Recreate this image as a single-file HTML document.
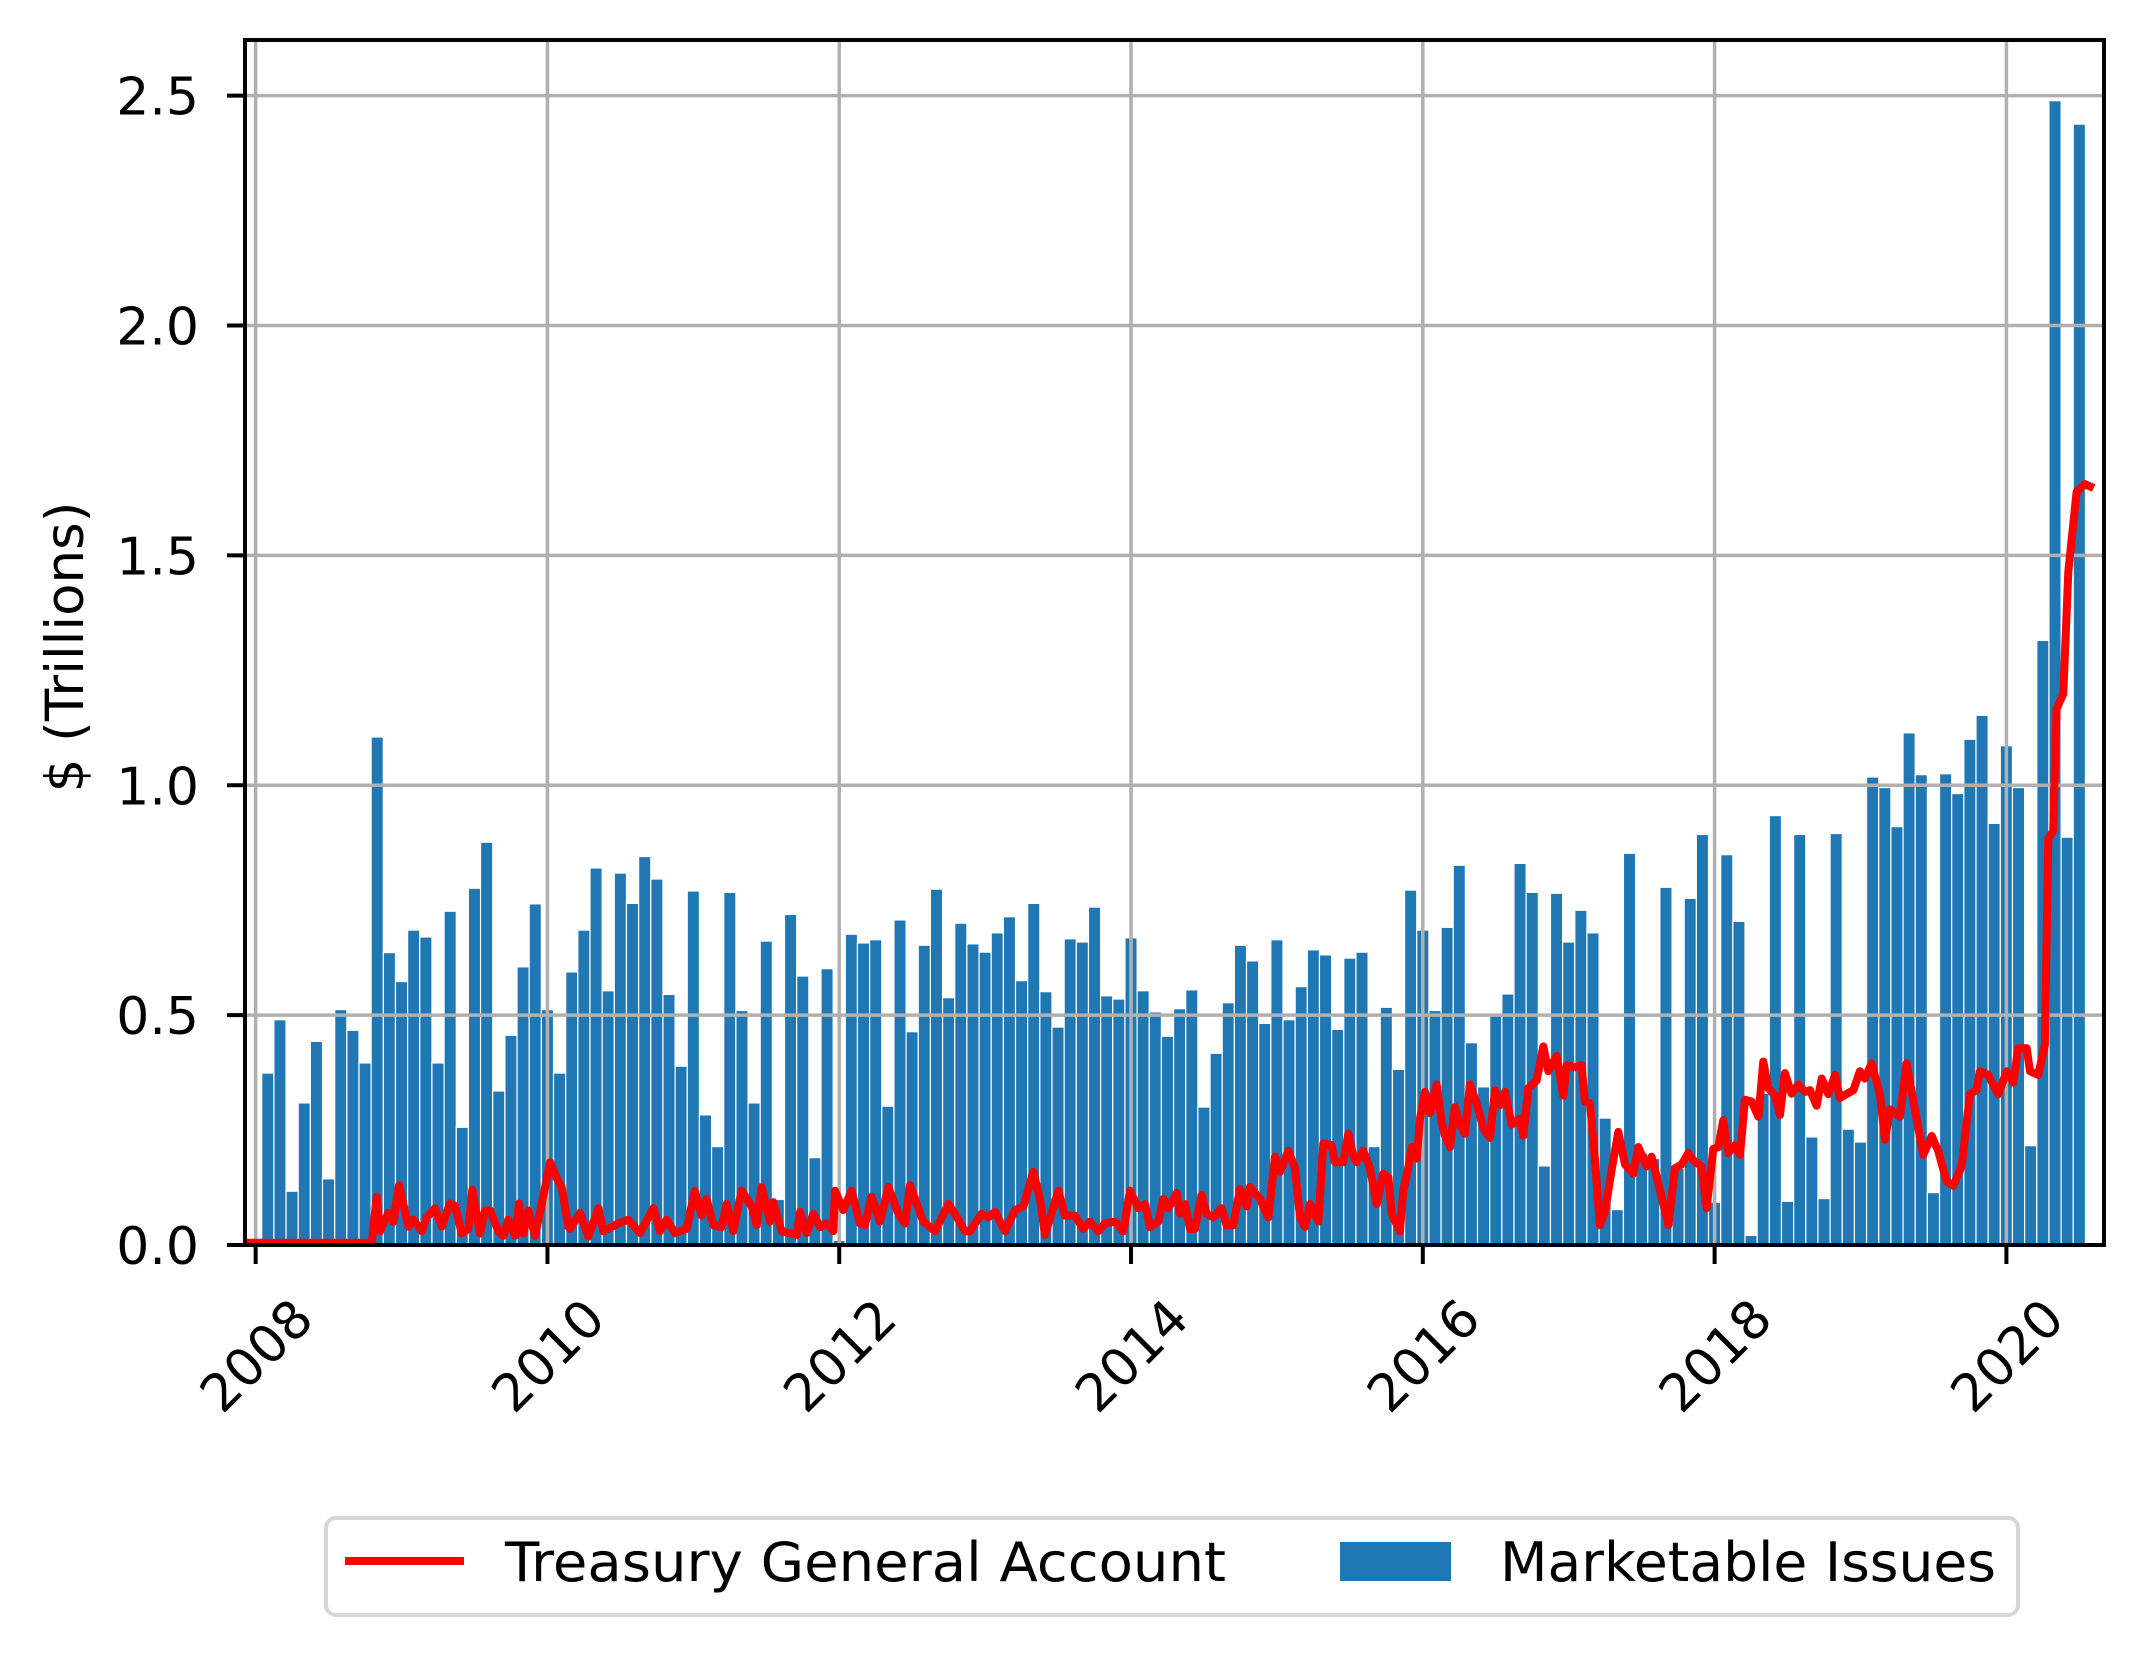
<!DOCTYPE html>
<html>
<head>
<meta charset="utf-8">
<style>
  html, body { margin: 0; padding: 0; background: #ffffff; }
  svg { display: block; }
  text { font-family: "DejaVu Sans", "Liberation Sans", sans-serif; fill: #000; }
</style>
</head>
<body>
<svg id="chart" width="2143" height="1655" viewBox="0 0 2143 1655" xmlns="http://www.w3.org/2000/svg">
  <rect x="0" y="0" width="2143" height="1655" fill="#ffffff"/>
  <defs>
    <clipPath id="plotClip"><rect x="245" y="40" width="1859" height="1205"/></clipPath>
  </defs>
  <g id="bars" clip-path="url(#plotClip)"></g>
  <g id="grid"></g>
  <g id="line" clip-path="url(#plotClip)"></g>
  <g id="axes"></g>
  <text x="0" y="0" font-size="53" text-anchor="middle" transform="translate(83,647) rotate(-90)">$ (Trillions)</text>

  <g>
    <rect x="326" y="1518" width="1692" height="97" rx="10" ry="10" fill="#ffffff" stroke="#d6d6d6" stroke-width="4"/>
    <line x1="345" y1="1561" x2="464" y2="1561" stroke="#ff0000" stroke-width="8"/>
    <text x="505" y="1581" font-size="54" textLength="721" lengthAdjust="spacingAndGlyphs">Treasury General Account</text>
    <rect x="1340" y="1542" width="111" height="39" fill="#1f77b4"/>
    <text x="1500" y="1581" font-size="54" textLength="496" lengthAdjust="spacingAndGlyphs">Marketable Issues</text>
  </g>
</svg>
<script>
// ---- data ----
const barStartYear = 2008;
const barStartMonth = 2; // February 2008, monthly bars
const barValues = [
  0.374,0.49,0.117,0.309,0.443,0.144,0.512,0.467,0.396,1.105,0.636,
  0.573,0.685,0.670,0.396,0.726,0.256,0.776,0.876,0.335,0.456,0.605,0.742,
  0.512,0.374,0.594,0.685,0.82,0.553,0.809,0.743,0.845,0.796,0.545,0.389,
  0.77,0.283,0.214,0.767,0.51,0.309,0.661,0.099,0.719,0.585,0.19,0.601,
  0.01,0.676,0.657,0.664,0.302,0.707,0.464,0.652,0.774,0.538,0.70,0.655,
  0.637,0.679,0.714,0.575,0.743,0.551,0.474,0.666,0.659,0.735,0.542,0.535,
  0.668,0.553,0.507,0.454,0.514,0.555,0.30,0.417,0.527,0.652,0.618,0.482,
  0.664,0.49,0.562,0.642,0.631,0.469,0.624,0.637,0.214,0.517,0.382,0.772,
  0.685,0.51,0.691,0.826,0.44,0.344,0.5,0.546,0.83,0.767,0.172,0.765,
  0.659,0.728,0.679,0.276,0.077,0.852,0.20,0.188,0.778,0.167,0.754,0.893,
  0.093,0.849,0.704,0.021,0.33,0.934,0.095,0.893,0.235,0.101,0.895,0.252,
  0.224,1.018,0.995,0.91,1.114,1.023,0.114,1.025,0.982,1.10,1.152,0.917,
  1.086,0.995,0.216,1.315,2.489,0.887,2.438
];
const lineDates = [
  2007.93,2008.796,2008.83,2008.853,2008.91,2008.944,2008.983,2009.047,2009.081,2009.138,2009.173,2009.23,2009.276,2009.332,2009.367,2009.413,2009.458,2009.485,2009.538,2009.572,2009.607,2009.664,2009.698,2009.732,2009.778,2009.805,2009.835,2009.869,2009.915,2009.961,2010.018,2010.064,2010.098,2010.143,
  2010.155,2010.223,2010.28,2010.349,2010.383,2010.486,2010.554,2010.634,2010.726,2010.771,2010.817,2010.874,2010.954,2011.011,2011.057,2011.091,2011.137,2011.194,2011.228,2011.274,2011.331,2011.4,2011.434,2011.468,2011.525,2011.548,2011.605,2011.708,2011.731,2011.777,2011.822,2011.868,2011.914,2011.959,2011.971,2012.028,2012.085,2012.142,2012.176,2012.222,2012.279,2012.336,
  2012.405,2012.451,2012.485,2012.576,2012.656,2012.748,2012.793,2012.862,2012.896,2012.976,2013.022,2013.068,2013.136,2013.205,2013.262,2013.33,2013.376,2013.41,2013.502,2013.547,2013.616,2013.673,2013.718,2013.776,2013.821,2013.89,2013.947,2013.993,2014.05,2014.096,2014.13,2014.187,2014.221,2014.256,2014.313,2014.336,2014.37,2014.404,2014.438,
  2014.484,2014.518,2014.564,2014.621,2014.655,2014.701,2014.747,2014.792,2014.815,2014.884,2014.941,2014.987,2015.021,2015.078,2015.124,2015.158,2015.192,2015.227,2015.284,2015.318,2015.375,2015.398,2015.455,2015.489,2015.524,2015.546,2015.592,2015.638,2015.684,2015.729,2015.764,2015.786,2015.843,2015.866,2015.9,2015.923,2015.958,2015.981,2016.015,2016.049,2016.095,2016.129,2016.152,2016.186,2016.22,2016.255,2016.289,2016.323,2016.369,2016.415,2016.46,2016.495,2016.529,2016.563,
  2016.609,2016.666,2016.689,2016.723,2016.78,2016.826,2016.86,2016.917,2016.963,2016.986,2017.043,2017.088,2017.111,2017.146,2017.18,2017.214,2017.248,2017.294,2017.34,2017.386,2017.443,2017.477,2017.534,2017.568,2017.614,2017.683,2017.728,2017.774,2017.82,2017.854,2017.911,2017.945,2017.991,2018.025,2018.059,2018.094,2018.139,2018.174,2018.208,2018.254,2018.3,2018.334,2018.368,2018.414,2018.448,2018.482,2018.528,2018.574,
  2018.62,2018.654,2018.699,2018.734,2018.779,2018.825,2018.859,2018.951,2018.996,2019.03,2019.076,2019.133,2019.168,2019.202,2019.27,2019.316,2019.373,2019.43,2019.488,2019.533,2019.59,2019.636,2019.693,2019.75,2019.796,2019.819,2019.876,2019.944,2020.002,2020.047,2020.081,2020.139,2020.162,2020.218,2020.264,2020.287,2020.321,2020.344,2020.39,2020.424,2020.481,2020.538,2020.573
];
const lineValues = [
  0.005,0.005,0.105,0.03,0.07,0.05,0.13,0.04,0.055,0.03,0.06,0.08,0.04,0.09,0.085,0.025,0.035,0.12,0.025,0.075,0.075,0.03,0.02,0.055,0.02,0.09,0.025,0.075,0.02,0.09,0.18,0.145,0.125,0.04,
  0.035,0.07,0.018,0.08,0.03,0.047,0.055,0.026,0.08,0.03,0.055,0.026,0.035,0.118,0.064,0.10,0.043,0.039,0.089,0.03,0.118,0.084,0.043,0.126,0.051,0.093,0.03,0.022,0.072,0.026,0.068,0.039,0.047,0.03,0.118,0.076,0.118,0.047,0.043,0.105,0.051,0.126,
  0.068,0.047,0.13,0.051,0.03,0.089,0.068,0.03,0.03,0.068,0.06,0.072,0.03,0.076,0.084,0.159,0.10,0.022,0.118,0.064,0.064,0.035,0.051,0.03,0.047,0.051,0.03,0.118,0.08,0.089,0.039,0.051,0.10,0.08,0.113,0.068,0.089,0.035,0.035,
  0.109,0.068,0.06,0.08,0.043,0.043,0.122,0.084,0.126,0.10,0.06,0.192,0.159,0.205,0.167,0.06,0.039,0.089,0.051,0.221,0.217,0.18,0.18,0.242,0.192,0.18,0.205,0.167,0.089,0.155,0.147,0.068,0.03,0.118,0.167,0.213,0.188,0.275,0.333,0.287,0.349,0.267,0.238,0.213,0.30,0.262,0.242,0.349,0.308,0.254,0.233,0.337,0.304,0.333,
  0.262,0.275,0.238,0.341,0.358,0.432,0.378,0.411,0.325,0.391,0.387,0.391,0.312,0.308,0.184,0.043,0.072,0.163,0.246,0.175,0.155,0.213,0.171,0.192,0.134,0.043,0.167,0.175,0.20,0.184,0.171,0.08,0.209,0.213,0.271,0.20,0.217,0.196,0.316,0.312,0.279,0.399,0.341,0.325,0.283,0.374,0.329,0.349,
  0.333,0.337,0.303,0.362,0.328,0.37,0.32,0.337,0.378,0.362,0.395,0.328,0.229,0.295,0.279,0.395,0.295,0.196,0.237,0.204,0.138,0.129,0.171,0.328,0.337,0.378,0.37,0.328,0.378,0.353,0.428,0.428,0.378,0.37,0.436,0.884,0.90,1.166,1.199,1.464,1.638,1.655,1.65
];
const yTicks = [0.0, 0.5, 1.0, 1.5, 2.0, 2.5];
const yTickLabels = ["0.0", "0.5", "1.0", "1.5", "2.0", "2.5"];
const xTicks = [2008, 2010, 2012, 2014, 2016, 2018, 2020];
const xTickLabels = ["2008", "2010", "2012", "2014", "2016", "2018", "2020"];

// ---- scales ----
const PL = 245, PR = 2104, PT = 40, PB = 1245;
const X0 = 2007.927, X1 = 2020.669, Y0 = 0, Y1 = 2.621;
function xs(t) { return PL + (t - X0) / (X1 - X0) * (PR - PL); }
function ys(v) { return PB - (v - Y0) / (Y1 - Y0) * (PB - PT); }
const NS = "http://www.w3.org/2000/svg";
function mk(tag, attrs, parent) {
  const e = document.createElementNS(NS, tag);
  for (const k in attrs) e.setAttribute(k, attrs[k]);
  parent.appendChild(e);
  return e;
}

// bars
const gBars = document.getElementById('bars');
barValues.forEach(function (v, i) {
  const m = (barStartMonth - 1) + i;
  const t = barStartYear + m / 12;
  const w = xs(t + 1 / 12) - xs(t);
  const r = mk('rect', { x: xs(t) - w / 2, y: ys(v), width: w, height: ys(0) - ys(v), fill: '#1f77b4', stroke: '#ffffff', 'stroke-width': 1.2 }, gBars);
  
  
});

// grid
const gGrid = document.getElementById('grid');
yTicks.forEach(function (v) {
  const l = mk('line', { x1: PL, x2: PR, y1: ys(v), y2: ys(v), stroke: '#b0b0b0', 'stroke-width': 3.5 }, gGrid);
  
  
});
xTicks.forEach(function (t) {
  const l = mk('line', { x1: xs(t), x2: xs(t), y1: PT, y2: PB, stroke: '#b0b0b0', 'stroke-width': 3.5 }, gGrid);
  
  
});

// line
const gLine = document.getElementById('line');
let d = '';
lineDates.forEach(function (t, i) {
  d += (i ? 'L' : 'M') + xs(t).toFixed(1) + ',' + ys(lineValues[i]).toFixed(1);
});
const path = mk('path', { d: d, fill: 'none', stroke: '#ff0000', 'stroke-width': 8, 'stroke-linejoin': 'round', 'stroke-linecap': 'square' }, gLine);



// axes
const gAx = document.getElementById('axes');
const frame = mk('rect', { x: PL, y: PT, width: PR - PL, height: PB - PT, fill: 'none', stroke: '#000', 'stroke-width': 4 }, gAx);


yTicks.forEach(function (v, i) {
  const tk = mk('line', { x1: PL - 18, x2: PL, y1: ys(v), y2: ys(v), stroke: '#000', 'stroke-width': 4 }, gAx);
  
  
  const tx = mk('text', { x: 199, y: ys(v) + 19, 'font-size': 52, 'text-anchor': 'end' }, gAx);
  tx.textContent = yTickLabels[i];
  
  
});
xTicks.forEach(function (t, i) {
  const tk = mk('line', { x1: xs(t), x2: xs(t), y1: PB, y2: PB + 19, stroke: '#000', 'stroke-width': 4 }, gAx);
  
  
  const tx = mk('text', { x: 0, y: 19, 'font-size': 52, 'text-anchor': 'middle', transform: 'translate(' + xs(t).toFixed(1) + ',1355) rotate(-45)' }, gAx);
  tx.textContent = xTickLabels[i];
  
  
});
</script>
</body>
</html>
